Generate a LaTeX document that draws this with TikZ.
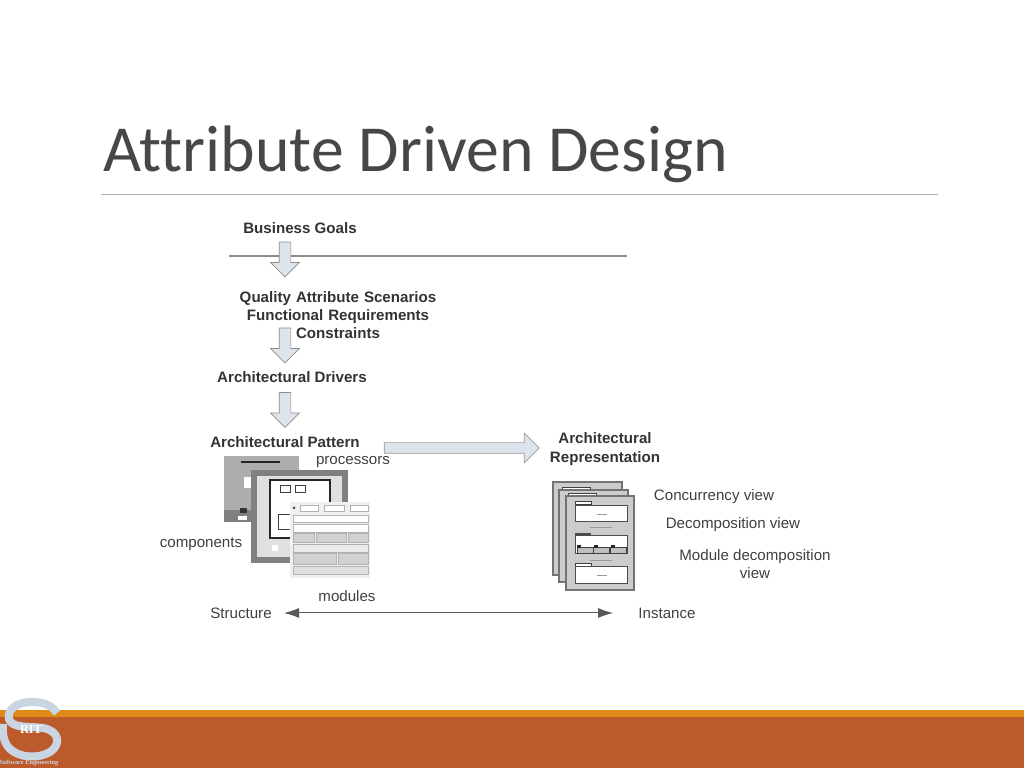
\documentclass[tikz,border=0pt]{standalone}
\usepackage{fontspec}
\setmainfont{Liberation Sans}
\newfontfamily\titlefont[Ligatures=NoCommon]{Carlito}
\newfontfamily\logofont{Liberation Serif}
\usetikzlibrary{arrows.meta,shapes.arrows}
\definecolor{arrowfill}{HTML}{DDE4EC}
\definecolor{rust}{HTML}{BC5A2B}
\definecolor{amber}{HTML}{DF8A17}
\definecolor{logoblue}{HTML}{C9D5E2}
\tikzstyle{heading} = [text=black!80, font=\fontsize{8.6pt}{10.4pt}\selectfont\bfseries, align=center, inner sep=0pt]
\tikzstyle{label} = [text=black!75, font=\fontsize{8.6pt}{10.4pt}\selectfont, align=center, inner sep=0pt]
\tikzstyle{downarrow} = [single arrow, draw=black!45, fill=arrowfill, shape border rotate=270, inner sep=1.1mm, minimum height=7mm, single arrow head extend=1.7mm, single arrow head indent=0pt]
\tikzstyle{connector} = [line width=0.2mm, black!65, {Latex[length=3mm,width=2mm]}-{Latex[length=3mm,width=2mm]}]
\tikzstyle{sheet} = [draw=black!55, line width=0.5mm, fill=black!20]
\tikzstyle{pane} = [draw=black!70, line width=0.2mm, fill=white]
\tikzstyle{cell} = [draw=black!30, line width=0.1mm, fill=black!18]
\tikzstyle{tab} = [draw=black!75, line width=0.2mm, fill=white]
\begin{document}
\begin{tikzpicture}[x=0.2mm,y=-0.2mm]
\useasboundingbox (0,0) rectangle (1024,768);
\fill[white] (0,0) rectangle (1024,768);
\node (title) [text=black!72, font=\titlefont\fontsize{37.4pt}{42pt}\selectfont, anchor=base west, inner sep=0pt] at (103,172) {Attribute Driven Design};
\draw [black!30, line width=0.15mm] (101,194) -- (938,194);
\fill[amber] (0,710) rectangle (1024,717);
\fill[rust] (0,717) rectangle (1024,768);
% logo
\draw [logoblue, line width=1.6mm] (57,713) .. controls (50,703) and (40,702) .. (31,702) .. controls (16,702) and (7,710) .. (9,719) .. controls (12,729) and (30,726) .. (43,728) .. controls (60,731) and (61,745) .. (50,752) .. controls (38,759) and (20,758) .. (10,749) .. controls (4,743) and (2,734) .. (3,724);
\node (rit) [text=white, font=\logofont\bfseries\fontsize{7pt}{8pt}\selectfont, inner sep=0pt] at (31,729) {RIT};
\node (swe) [text=logoblue, font=\logofont\bfseries\fontsize{3.6pt}{4pt}\selectfont, inner sep=0pt] at (29,763) {Software Engineering};
% left column
\node (goals) [heading] at (300,228) {Business Goals};
\draw [black!45, line width=0.25mm] (229,256) -- (627,256);
\node (arrowa) [downarrow, below of = goals, xshift = -3mm, yshift = 4.3mm] {};
\node (scenarios) [heading, below of = goals, xshift = 7.6mm, yshift = -7.4mm, text width=6cm] {Quality Attribute Scenarios\\Functional Requirements\\Constraints};
\node (arrowb) [downarrow, below of = scenarios, xshift = -10.6mm, yshift = 4.5mm] {};
\node (drivers) [heading] at (292,377) {Architectural Drivers};
\node (arrowc) [downarrow, below of = drivers, xshift = -1.4mm, yshift = 4mm] {};
\node (pattern) [heading] at (285,442) {Architectural Pattern};
\node (processors) [label] at (353,462) {processors};
\node (components) [label] at (201,544) {components};
\node (modules) [label] at (347,596) {modules};
% pattern sheets
\fill[black!32] (224,456) rectangle (299,522);
\fill[black!50] (224,522) -- (224,510) -- (252,510) -- (252,522) -- cycle;
\draw [black!85, line width=0.3mm] (241,462) -- (280,462);
\fill[white] (244,477) rectangle (262,488);
\fill[black!80] (240,508) rectangle (247,513);
\fill[white] (238,516) rectangle (247,520);
\draw [black!50, line width=1.2mm, fill=black!12] (254,473) rectangle (345,560);
\draw [black!85, line width=0.35mm, fill=white] (270,480) rectangle (330,538);
\draw [tab] (280,486) rectangle (290,493);
\draw [tab] (295,486) rectangle (305,493);
\draw [tab] (278,515) rectangle (292,530);
\fill[white] (272,545) rectangle (278,551);
\fill[black!6] (290,502) rectangle (370,578);
\draw [cell, fill=white] (293,515) rectangle (368,522);
\draw [cell, fill=white] (293,524) rectangle (368,532);
\draw [cell] (293,533) rectangle (314,542);
\draw [cell] (316,533) rectangle (346,542);
\draw [cell] (348,533) rectangle (368,542);
\draw [cell, fill=black!8] (293,544) rectangle (368,552);
\draw [cell] (293,553) rectangle (336,564);
\draw [cell] (338,553) rectangle (368,564);
\draw [cell, fill=black!12] (293,566) rectangle (368,574);
\draw [black!30, line width=0.1mm, fill=white] (300,505) rectangle (318,511);
\draw [black!30, line width=0.1mm, fill=white] (324,505) rectangle (344,511);
\draw [black!30, line width=0.1mm, fill=white] (350,505) rectangle (368,511);
\fill[black!70] (294,508) circle (1.5);
% right column
\node (bigarrow) [single arrow, draw=black!40, fill=arrowfill, inner sep=1mm, minimum height=31mm, single arrow head extend=1.9mm, single arrow head indent=0pt] at (459,448) {};
\node (representation) [heading] at (605,449) {Architectural\\Representation};
\draw [sheet] (553,482) rectangle (622,575);
\draw [tab] (562,488) rectangle (590,494);
\draw [sheet] (559,490) rectangle (628,582);
\draw [tab] (568,494) rectangle (596,500);
\draw [sheet] (566,496) rectangle (634,590);
\draw [tab] (575,502) rectangle (591,505);
\draw [pane] (575,506) rectangle (627,522);
\draw [black!40, line width=0.1mm] (597,514) -- (607,514);
\draw [black!40, line width=0.1mm] (590,527) -- (612,527);
\fill[black!70] (575,533) rectangle (591,536);
\draw [pane] (575,536) rectangle (627,554);
\draw [black!75, fill=black!25, line width=0.15mm] (577,547) rectangle (593,553);
\draw [black!75, fill=black!25, line width=0.15mm] (593,547) rectangle (609,553);
\draw [black!75, fill=black!25, line width=0.15mm] (610,547) rectangle (626,553);
\fill[black!85] (577,545) rectangle (581,548);
\fill[black!85] (594,545) rectangle (598,548);
\fill[black!85] (611,545) rectangle (615,548);
\draw [black!40, line width=0.1mm] (590,560) -- (612,560);
\draw [tab] (575,564) rectangle (591,567);
\draw [pane] (575,567) rectangle (627,584);
\draw [black!40, line width=0.1mm] (597,575) -- (607,575);
\node (concurrency) [label] at (714,497) {Concurrency view};
\node (decomposition) [label] at (733,525) {Decomposition view};
\node (moduleview) [label] at (755,564) {Module decomposition\\view};
% bottom axis
\node (structure) [label] at (241,613) {Structure};
\node (instance) [label] at (667,613) {Instance};
\draw [connector, shorten <=2.4mm, shorten >=5mm] (structure) -- (instance);
\end{tikzpicture}
\end{document}
